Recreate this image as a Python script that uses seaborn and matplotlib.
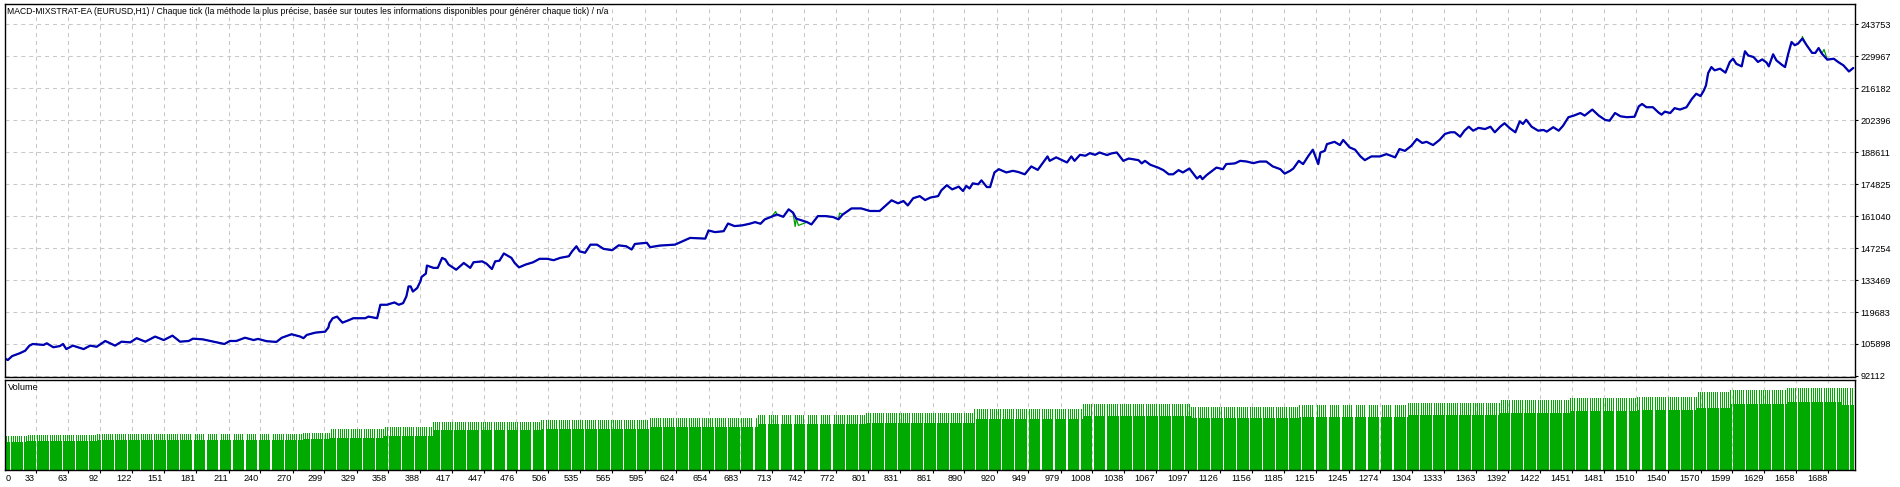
import numpy as np
import pandas as pd
import matplotlib
matplotlib.use("Agg")
import matplotlib.pyplot as plt
import seaborn as sns
from matplotlib.transforms import ScaledTranslation

sns.set_theme(style="white")
plt.rcParams['font.family'] = ['Liberation Sans Narrow', 'DejaVu Sans Condensed', 'Liberation Sans', 'DejaVu Sans']

# ---------------- data ----------------
title = ("MACD-MIXSTRAT-EA (EURUSD,H1) / Chaque tick (la méthode la plus précise, "
         "basée sur toutes les informations disponibles pour générer chaque tick) / n/a")

x_ticks = [33, 63, 92, 122, 151, 181, 211, 240, 270, 299, 329, 358, 388, 417, 447, 476,
           506, 535, 565, 595, 624, 654, 683, 713, 742, 772, 801, 831, 861, 890, 920, 949,
           979, 1008, 1038, 1067, 1097, 1126, 1156, 1185, 1215, 1245, 1274, 1304, 1333,
           1363, 1392, 1422, 1451, 1481, 1510, 1540, 1570, 1599, 1629, 1658, 1688]

y_tick_values = [92112, 105897.5, 119683, 133468.5, 147254, 161039.5, 174825,
                 188610.5, 202396, 216181.5, 229967, 243752.5]
y_tick_labels = ["92112", "105898", "119683", "133469", "147254", "161040", "174825",
                 "188611", "202396", "216182", "229967", "243753"]

# balance curve: trade number / balance
bal_n = [4, 7, 11, 18, 23, 27, 30, 40, 43, 49, 55, 58, 61, 67, 77, 83, 89, 97, 106, 112,
         120, 126, 134, 143, 151, 159, 166, 174, 178, 187, 197, 207, 212, 218, 226, 234,
         238, 246, 255, 260, 269, 277, 280, 283, 291, 300, 303, 304, 307, 311, 316, 321,
         326, 337, 340, 348, 351, 357, 364, 368, 372, 375, 377, 379, 381, 385, 388, 389,
         393, 394, 400, 404, 408, 411, 414, 421, 428, 434, 437, 445, 449, 454, 457, 461,
         465, 472, 475, 479, 485, 492, 498, 505, 511, 517, 525, 528, 532, 535, 540, 545,
         551, 557, 565, 571, 578, 583, 586, 597, 600, 609, 623, 637, 651, 654, 660, 668,
         672, 678, 685, 692, 697, 702, 706, 712, 717, 723, 728, 732, 735, 745, 749, 755,
         762, 769, 774, 778, 786, 795, 803, 812, 817, 823, 829, 834, 838, 843, 849, 854,
         859, 866, 869, 874, 879, 885, 889, 892, 895, 898, 903, 906, 911, 914, 918, 922,
         929, 935, 940, 946, 952, 958, 963, 967, 969, 975, 985, 989, 992, 997, 1002, 1006,
         1011, 1015, 1022, 1026, 1031, 1037, 1042, 1051, 1054, 1057, 1062, 1069, 1074,
         1079, 1083, 1088, 1092, 1098, 1102, 1105, 1108, 1110, 1114, 1119, 1123, 1129,
         1132, 1140, 1145, 1151, 1157, 1163, 1169, 1175, 1182, 1186, 1191, 1194, 1199,
         1203, 1208, 1212, 1217, 1219, 1223, 1225, 1232, 1237, 1240, 1246, 1251, 1256,
         1260, 1266, 1274, 1280, 1288, 1292, 1297, 1303, 1308, 1313, 1317, 1323, 1329,
         1334, 1339, 1343, 1348, 1352, 1356, 1360, 1365, 1371, 1376, 1380, 1385, 1389,
         1394, 1399, 1403, 1406, 1409, 1414, 1420, 1425, 1428, 1434, 1439, 1443, 1448,
         1453, 1459, 1463, 1470, 1476, 1482, 1486, 1491, 1496, 1502, 1509, 1513, 1516,
         1520, 1526, 1531, 1534, 1537, 1542, 1546, 1551, 1557, 1562, 1566, 1570, 1573,
         1575, 1577, 1580, 1583, 1588, 1593, 1597, 1600, 1603, 1608, 1611, 1614, 1619,
         1623, 1627, 1631, 1633, 1637, 1640, 1645, 1648, 1651, 1654, 1657, 1660, 1664,
         1668, 1673, 1676, 1679, 1682, 1687, 1693, 1697, 1702, 1707, 1711]
bal_v = [99700, 99000, 100700, 101900, 103000, 105200, 105900, 105500, 106200, 104500,
         105000, 105900, 103700, 105200, 103700, 105200, 104700, 107200, 105200, 106900,
         106600, 108400, 106900, 109100, 107600, 109500, 106900, 107200, 108200, 107900,
         106900, 105900, 107200, 107200, 108600, 107600, 108100, 107100, 106800, 108600,
         110100, 109100, 108400, 109800, 110800, 111200, 113000, 114900, 117000, 117700,
         115100, 116000, 117000, 117000, 117700, 117000, 122800, 122800, 123800, 122800,
         123500, 126400, 130700, 130700, 128500, 130000, 132900, 134800, 136200, 139700,
         138700, 138700, 143000, 142300, 140100, 137900, 140800, 138700, 141100, 141500,
         140500, 138200, 141500, 141800, 144900, 143000, 140800, 138900, 140100, 141100,
         142600, 142600, 142000, 143000, 143700, 145800, 148000, 145800, 145200, 148700,
         148700, 146900, 146300, 148400, 148000, 146600, 149000, 149500, 147600, 148300,
         148700, 151600, 151300, 154800, 154100, 154500, 157800, 156700, 157000, 157700,
         158400, 157700, 159600, 160700, 161700, 160700, 163900, 162500, 159900, 158400,
         157400, 161000, 161000, 160600, 159600, 161700, 164300, 164300, 163200, 163200,
         165300, 167800, 166500, 167500, 165600, 168700, 169600, 167900, 169000, 169600,
         172100, 174300, 172500, 173700, 171800, 174000, 172900, 175100, 174700, 176400,
         173500, 173500, 179800, 181200, 179800, 180500, 180000, 179000, 182400, 180900,
         184100, 186700, 184800, 186300, 184100, 186700, 184800, 187400, 187000, 188100,
         187400, 188400, 187300, 188000, 188400, 184800, 185800, 185100, 183700, 184800,
         183100, 181900, 180800, 179000, 179000, 180800, 179800, 181500, 179000, 177200,
         178300, 176900, 178700, 180500, 181900, 181200, 183400, 183700, 184800, 184500,
         183800, 184500, 184500, 182400, 181200, 179300, 180500, 181500, 184800, 183400,
         187000, 189600, 183400, 188400, 189100, 192000, 193000, 191600, 193800, 190600,
         189600, 186700, 185100, 186700, 186700, 187700, 186300, 189900, 189100, 191300,
         194200, 192500, 193000, 191600, 193800, 196400, 197100, 197100, 195200, 197800,
         199500, 197800, 199000, 198500, 199500, 197100, 199500, 201000, 198800, 197100,
         201800, 200700, 202500, 199500, 197800, 198100, 197400, 199300, 197800, 199900,
         203600, 204300, 205400, 204300, 206900, 204300, 202400, 202100, 205400, 204000,
         203600, 203800, 208300, 209300, 207900, 207900, 205700, 204700, 206000, 205400,
         207500, 206900, 207900, 211500, 213700, 212700, 215100, 217300, 222600, 225200,
         223800, 224500, 222800, 227400, 228800, 226600, 225500, 232000, 230200, 229500,
         227400, 228500, 227100, 225500, 230700, 228100, 226200, 225200, 231000, 236000,
         234600, 235300, 237500, 234600, 231300, 231300, 233400, 231000, 228400, 228800,
         227400, 225900, 223300, 224800]

# floating equity excursions (where the green equity line leaves the balance line)
eq_extra_n = [716, 734, 737, 775, 1664, 1684]
eq_extra_v = [163000, 156500, 157000, 162300, 238300, 232800]

# volume (lots): level changes by trade number, small / large positions
vol_start = [0, 25, 90, 280, 305, 355, 400, 500, 600, 700, 800, 900, 1000, 1100, 1200,
             1300, 1385, 1450, 1512, 1567, 1598, 1650, 1700]
vol_low = [0.82, 0.87, 0.90, 0.92, 0.95, 1.00, 1.17, 1.22, 1.27, 1.35, 1.40, 1.50, 1.61,
           1.55, 1.58, 1.64, 1.69, 1.76, 1.79, 1.83, 1.95, 2.01, 1.93]
vol_high = [1.00, 1.05, 1.08, 1.09, 1.20, 1.26, 1.42, 1.48, 1.54, 1.64, 1.70, 1.82, 1.95,
            1.88, 1.92, 1.99, 2.06, 2.12, 2.15, 2.30, 2.38, 2.44, 2.44]
first_trade, last_trade = 5, 1711

# ---------------- figure ----------------
W, H = 1900, 487
fig = plt.figure(figsize=(W / 100, H / 100), dpi=100)
fig.patch.set_facecolor("white")

L, R = 5, 1855
ax = fig.add_axes([L / W, 1 - 377 / H, (R - L) / W, (377 - 4) / H])
ax2 = fig.add_axes([L / W, 1 - 470 / H, (R - L) / W, (470 - 379.5) / H], sharex=ax)

blue = "#0000b4"
green_line = "#00a000"
green_bar = "#00aa00"
grid_kw = dict(color="#c8c8c8", linestyle=(0, (3.8, 3.8)), linewidth=0.75)

bal = pd.DataFrame({"trade": bal_n, "value": bal_v})
eq = pd.concat([bal, pd.DataFrame({"trade": eq_extra_n, "value": eq_extra_v})])
eq = eq.sort_values("trade", kind="stable")

sns.lineplot(data=eq, x="trade", y="value", ax=ax, color=green_line, linewidth=0.9,
             estimator=None, sort=False)
sns.lineplot(data=bal, x="trade", y="value", ax=ax, color=blue, linewidth=1.6,
             estimator=None, sort=False)

ax.set_xlim(4.4, 1712.6)
ax.set_ylim(91681, 252370)
ax.set_xticks(x_ticks)
ax.set_yticks(y_tick_values)
ax.set_yticklabels(y_tick_labels)
ax.yaxis.tick_right()
ax.grid(True, **grid_kw)
ax.set_axisbelow(True)
ax.set_xlabel("")
ax.set_ylabel("")

# volume bars
trades = np.arange(first_trade, last_trade + 1)
seg = np.searchsorted(vol_start, trades, side="right") - 1
is_big = (trades % 2 == 0)
vol = np.where(is_big, np.array(vol_high)[seg], np.array(vol_low)[seg])
ax2.bar(trades, vol, width=0.9, color=green_bar, linewidth=0, antialiased=False,
        align="center", zorder=2)
ax2.set_ylim(0, 2.68)
ax2.set_yticks([])
ax2.grid(True, axis="x", **grid_kw)
ax2.set_axisbelow(True)
ax2.set_xticks(x_ticks)
ax2.set_xticklabels([str(t) for t in x_ticks])
ax2.set_xlabel("")
ax2.set_ylabel("")

for a in (ax, ax2):
    a.set_facecolor("white")
    for s in a.spines.values():
        s.set_visible(True)
        s.set_color("black")
        s.set_linewidth(1.0)

# ---- fit font sizes so text widths match the reference ----
renderer = fig.canvas.get_renderer()

def fit_size(text, target_px, start=7.0):
    t = fig.text(0, 0, text, fontsize=start)
    w = t.get_window_extent(renderer).width
    t.remove()
    return start * target_px / w

tick_fs = fit_size("243753", 30.5)
title_fs = fit_size(title, 600.0)

ax.tick_params(axis="y", which="both", right=True, left=False, length=2.2, width=0.8,
               pad=1.6, labelsize=tick_fs, colors="black")
ax.tick_params(axis="x", which="both", bottom=False, labelbottom=False)
ax2.tick_params(axis="x", which="both", bottom=True, length=2.2, width=0.8, pad=0.8,
                labelsize=tick_fs, colors="black")
for lab in ax2.get_xticklabels():
    lab.set_ha("right")
    lab.set_transform(lab.get_transform() + ScaledTranslation(-1 / 100, 0, fig.dpi_scale_trans))

# "0" label at the left edge of the time axis
fig.text(6 / W, 1 - 474 / H, "0", ha="left", va="top", fontsize=tick_fs, color="black")

fig.text(7 / W, 1 - 11 / H, title, ha="left", va="center", fontsize=title_fs, color="black")
fig.text(8 / W, 1 - 388 / H, "Volume", ha="left", va="center", fontsize=tick_fs, color="black")

fig.savefig("out.png", dpi=100, facecolor="white")
